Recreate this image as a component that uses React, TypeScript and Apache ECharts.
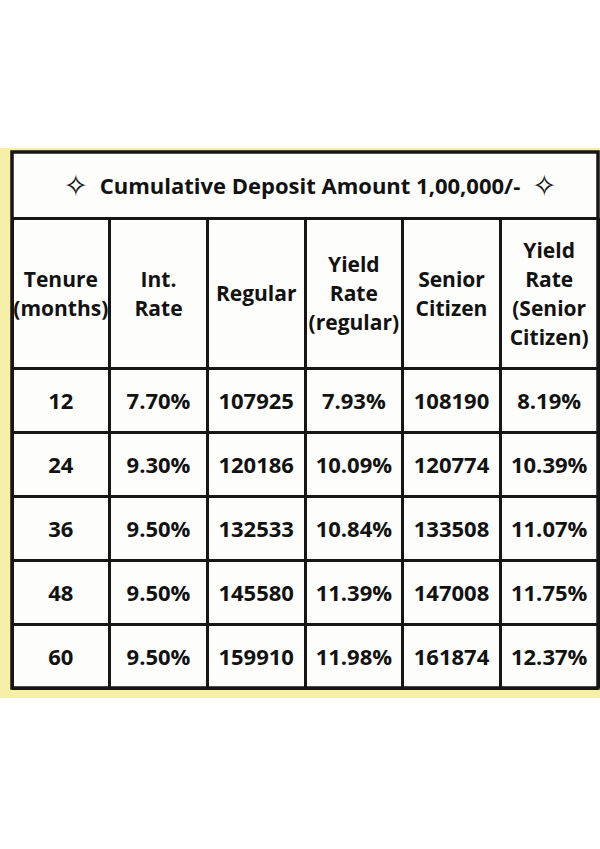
import React, { useEffect, useRef } from "react";
import * as echarts from "echarts";

// ---- data ----
const titleText = "Cumulative Deposit Amount 1,00,000/-";
const columnHeaders = [
  "Tenure\n(months)",
  "Int.\nRate",
  "Regular",
  "Yield\nRate\n(regular)",
  "Senior\nCitizen",
  "Yield\nRate\n(Senior\nCitizen)",
];
const tenures = ["12", "24", "36", "48", "60"];
const intRates = [7.7, 9.3, 9.5, 9.5, 9.5];
const regularAmounts = [107925, 120186, 132533, 145580, 159910];
const yieldRegular = [7.93, 10.09, 10.84, 11.39, 11.98];
const seniorAmounts = [108190, 120774, 133508, 147008, 161874];
const yieldSenior = [8.19, 10.39, 11.07, 11.75, 12.37];

const pct = (v: number) => v.toFixed(2) + "%";

const FONT = "'Open Sans', 'DejaVu Sans', sans-serif";
const INK = "#121212";
const LINE = { color: "#161616", width: 3 };

export default function App() {
  const ref = useRef<HTMLDivElement>(null);

  useEffect(() => {
    if (!ref.current) return;
    const chart = echarts.init(ref.current, undefined, { renderer: "svg" });

    const colKeys = columnHeaders.map((_, i) => "c" + i);

    const bodyRows = tenures.map((t, r) => [
      t,
      pct(intRates[r]),
      String(regularAmounts[r]),
      pct(yieldRegular[r]),
      String(seniorAmounts[r]),
      pct(yieldSenior[r]),
    ]);
    const bodyData: number[][] = [];
    const bodyLabels: string[] = [];
    bodyRows.forEach((row, r) =>
      row.forEach((txt, c) => {
        bodyData.push([c, r]);
        bodyLabels.push(txt);
      })
    );
    const headData = columnHeaders.map((_, c) => [c, 0]);

    const hiddenAxis = {
      axisLine: { show: false },
      axisTick: { show: false },
      axisLabel: { show: false },
      splitLine: { show: true, lineStyle: LINE },
    };

    const textItem =
      (labels: string[], fontSize: number) => (params: any, api: any) => {
        const p = api.coord([api.value(0), api.value(1)]);
        return {
          type: "text",
          x: p[0],
          y: p[1],
          style: {
            text: labels[params.dataIndex],
            align: "center",
            verticalAlign: "middle",
            fontSize,
            fontWeight: 700,
            fontFamily: FONT,
            lineHeight: 29,
            fill: INK,
          },
        };
      };

    chart.setOption({
      animation: false,
      backgroundColor: "#ffffff",
      graphic: [
        {
          type: "rect",
          z: -20,
          shape: { x: 0, y: 148, width: 600, height: 550 },
          style: { fill: "#f6efa8" },
        },
        {
          type: "rect",
          z: -10,
          shape: { x: 12, y: 152, width: 586, height: 536 },
          style: { fill: "#fdfdfb" },
        },
        {
          type: "rect",
          z: 50,
          shape: { x: 12, y: 152, width: 586, height: 536 },
          style: { fill: "none", stroke: "#161616", lineWidth: 3.5 },
        },
        {
          type: "text",
          z: 50,
          x: 310,
          y: 185,
          style: {
            text: "{s|\u2727}  " + titleText + "  {s|\u2727}",
            align: "center",
            verticalAlign: "middle",
            fontSize: 22,
            fontWeight: 700,
            fontFamily: FONT,
            fill: INK,
            rich: {
              s: {
                fontSize: 30,
                fontWeight: 400,
                fontFamily: "'DejaVu Sans', sans-serif",
                fill: INK,
              },
            },
          },
        },
      ],
      grid: [
        { left: 12, right: 2, top: 218, height: 150 },
        { left: 12, right: 2, top: 368, height: 320 },
      ],
      xAxis: [
        { gridIndex: 0, type: "category", data: colKeys, ...hiddenAxis },
        { gridIndex: 1, type: "category", data: colKeys, ...hiddenAxis },
      ],
      yAxis: [
        { gridIndex: 0, type: "category", data: ["head"], ...hiddenAxis },
        {
          gridIndex: 1,
          type: "category",
          data: tenures,
          inverse: true,
          ...hiddenAxis,
        },
      ],
      series: [
        {
          type: "custom",
          coordinateSystem: "cartesian2d",
          xAxisIndex: 0,
          yAxisIndex: 0,
          data: headData,
          renderItem: textItem(columnHeaders, 21),
          z: 10,
        },
        {
          type: "custom",
          coordinateSystem: "cartesian2d",
          xAxisIndex: 1,
          yAxisIndex: 1,
          data: bodyData,
          renderItem: textItem(bodyLabels, 22),
          z: 10,
        },
      ],
    });

    return () => chart.dispose();
  }, []);

  return (
    <div
      ref={ref}
      style={{ position: "absolute", left: 0, top: 0, width: 600, height: 849 }}
    />
  );
}
